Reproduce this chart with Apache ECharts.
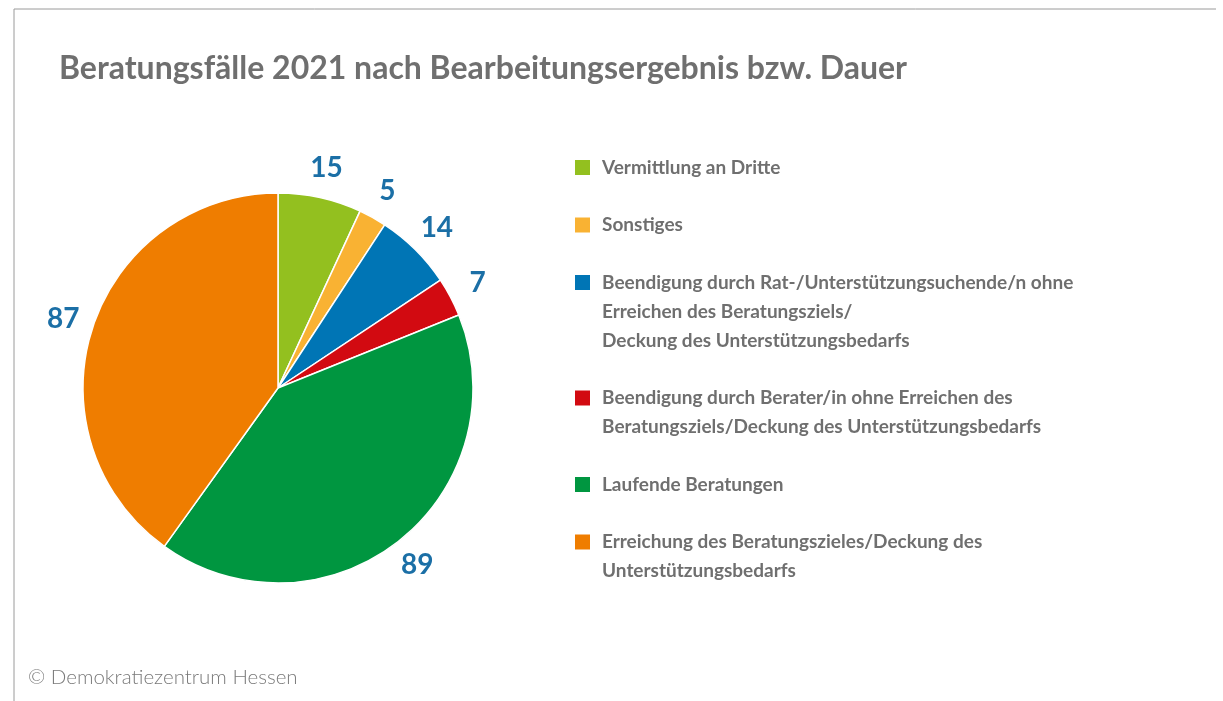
<!DOCTYPE html>
<html>
<head>
<meta charset="utf-8">
<script src="https://cdn.jsdelivr.net/npm/echarts@6/dist/echarts.min.js"></script>
<style>
  html, body { margin: 0; padding: 0; background: #fff; }
  #chart { width: 1223px; height: 701px; }
</style>
</head>
<body>
<div id="chart"></div>
<script>
// Data
const categories = [
    'Vermittlung an Dritte',
    'Sonstiges',
    'Beendigung durch Rat-/Unterstützungsuchende/n ohne\nErreichen des Beratungsziels/\nDeckung des Unterstützungsbedarfs',
    'Beendigung durch Berater/in ohne Erreichen des\nBeratungsziels/Deckung des Unterstützungsbedarfs',
    'Laufende Beratungen',
    'Erreichung des Beratungszieles/Deckung des\nUnterstützungsbedarfs'
];
const values = [15, 5, 14, 7, 89, 87];
const colors = ['#93c01f', '#f9b233', '#0075b5', '#d20a11', '#009640', '#ef7d00'];

const textGrey = '#6f6f6f';
const labelBlue = '#1b6fa6';

// legend square + text as rich text, so the square sits on the first line
const rich = {
    t: { fontFamily: 'Lato', fontWeight: 'bold', fontSize: 19, color: textGrey, lineHeight: 29 },
    sp: { width: 27, height: 15 }
};
colors.forEach((c, i) => {
    rich['c' + i] = { backgroundColor: c, width: 15, height: 15 };
    rich['g' + i] = { width: 12 };
});

function legendText(name) {
    const i = categories.indexOf(name);
    const lines = name.split('\n');
    return lines.map((line, k) => {
        if (k === 0) return '{c' + i + '|}{g' + i + '|}{t|' + line + '}';
        return '{sp|}{t|' + line + '}';
    }).join('\n');
}

const pieData = categories.map((name, i) => ({
    name: name,
    value: values[i],
    itemStyle: { color: colors[i] }
}));

const chart = echarts.init(document.getElementById('chart'));

const options = {
    backgroundColor: '#fff',
    animation: false,
    title: {
        text: 'Beratungsfälle 2021 nach Bearbeitungsergebnis bzw. Dauer',
        left: 54,
        top: 48,
        textStyle: { fontFamily: 'Lato', fontWeight: 'bold', fontSize: 32, color: textGrey }
    },
    legend: {
        orient: 'vertical',
        left: 565,
        top: 153,
        icon: 'none',
        itemWidth: 0,
        itemHeight: 15,
        itemGap: 38.5,
        selectedMode: false,
        data: categories,
        formatter: legendText,
        textStyle: { rich: rich, padding: 0 }
    },
    graphic: [
        // frame lines top and left
        { type: 'line', shape: { x1: 14, y1: 9, x2: 1216, y2: 9 }, style: { stroke: '#9a9a9a', lineWidth: 1 } },
        { type: 'line', shape: { x1: 14, y1: 9, x2: 14, y2: 701 }, style: { stroke: '#9a9a9a', lineWidth: 1 } },
        {
            type: 'text', left: 28, top: 667,
            style: { text: '© Demokratiezentrum Hessen', fontFamily: 'Lato', fontWeight: 300, fontSize: 20.5, fill: '#7a7a7a' }
        }
    ],
    series: [
        {
            type: 'pie',
            center: [278, 388],
            radius: 195,
            startAngle: 90,
            clockwise: true,
            itemStyle: { borderColor: '#fff', borderWidth: 1.5 },
            label: { show: false },
            labelLine: { show: false },
            emphasis: { disabled: true },
            data: pieData
        },
        {
            // invisible ring around the pie, only used to place the value labels
            type: 'pie',
            center: [278, 388],
            radius: [195, 250],
            startAngle: 90,
            clockwise: true,
            silent: true,
            itemStyle: { color: 'rgba(0,0,0,0)', borderWidth: 0 },
            label: {
                show: true,
                position: 'inside',
                formatter: '{c}',
                color: labelBlue,
                fontFamily: 'Lato',
                fontWeight: 'bold',
                fontSize: 28
            },
            labelLine: { show: false },
            emphasis: { disabled: true },
            data: categories.map((name, i) => ({ name: name, value: values[i] }))
        }
    ]
};

chart.setOption(options);
</script>
</body>
</html>
